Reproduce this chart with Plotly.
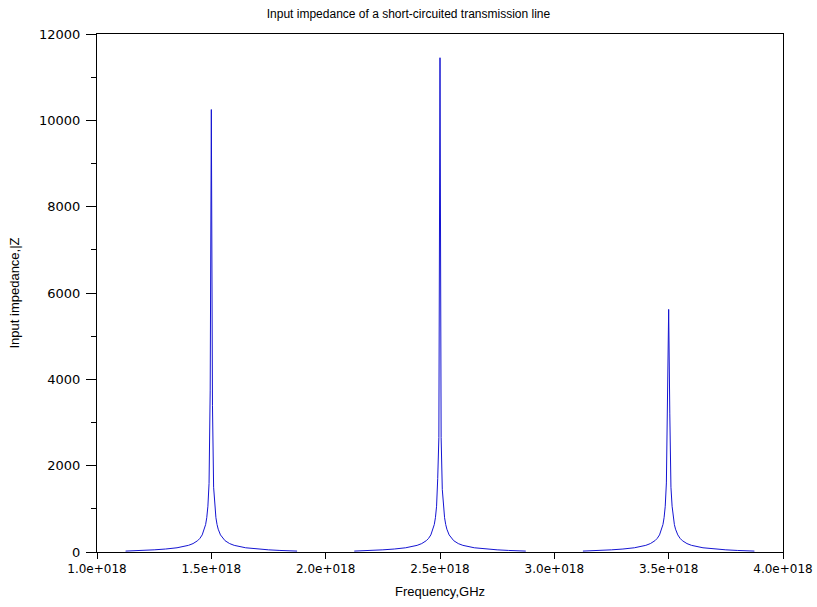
import plotly.graph_objects as go

# frequency in units of 1e18 Hz
freq_1 = [1.125, 1.15, 1.2, 1.25, 1.3, 1.35, 1.4, 1.42, 1.44, 1.45, 1.46, 1.47, 1.475,
          1.48, 1.485, 1.49, 1.495, 1.5, 1.505, 1.51, 1.515, 1.52, 1.525, 1.53, 1.54,
          1.55, 1.56, 1.58, 1.6, 1.65, 1.7, 1.75, 1.8, 1.85, 1.875]
freq_2 = [2.125, 2.15, 2.2, 2.25, 2.3, 2.35, 2.4, 2.42, 2.44, 2.45, 2.46, 2.47, 2.475,
          2.48, 2.485, 2.49, 2.495, 2.5, 2.505, 2.51, 2.515, 2.52, 2.525, 2.53, 2.54,
          2.55, 2.56, 2.58, 2.6, 2.65, 2.7, 2.75, 2.8, 2.85, 2.875]
freq_3 = [3.125, 3.15, 3.2, 3.25, 3.3, 3.35, 3.4, 3.42, 3.44, 3.45, 3.46, 3.47, 3.475,
          3.48, 3.485, 3.49, 3.495, 3.5, 3.505, 3.51, 3.515, 3.52, 3.525, 3.53, 3.54,
          3.55, 3.56, 3.58, 3.6, 3.65, 3.7, 3.75, 3.8, 3.85, 3.875]

z_1 = [21, 25, 36, 50, 69, 98, 154, 195, 262, 316, 396, 529, 635,
       795, 1060, 1590, 3750, 10250, 3400, 1500, 1060, 795, 635, 529, 396,
       316, 262, 195, 154, 98, 69, 50, 36, 25, 21]
z_2 = [21, 25, 36, 50, 69, 98, 154, 195, 262, 316, 396, 529, 635,
       795, 1060, 1700, 2650, 11450, 2650, 1450, 1060, 795, 635, 529, 396,
       316, 262, 195, 154, 98, 69, 50, 36, 25, 21]
z_3 = [21, 25, 36, 50, 69, 98, 154, 195, 262, 316, 396, 529, 635,
       795, 1060, 1600, 3170, 5620, 3200, 1500, 1060, 795, 635, 529, 396,
       316, 262, 195, 154, 98, 69, 50, 36, 25, 21]

x_ticks = [1.0, 1.5, 2.0, 2.5, 3.0, 3.5, 4.0]
x_labels = ["1.0e+018", "1.5e+018", "2.0e+018", "2.5e+018", "3.0e+018", "3.5e+018", "4.0e+018"]
y_ticks = [0, 2000, 4000, 6000, 8000, 10000, 12000]
y_labels = ["0", "2000", "4000", "6000", "8000", "10000", "12000"]
y_minor = [1000, 3000, 5000, 7000, 9000, 11000]

SCALE = 1e18
BLUE = "#1414d2"
TICK_FONT = "DejaVu Sans, sans-serif"
TEXT_FONT = "Liberation Sans, Arial, sans-serif"
NARROW = "Liberation Sans Narrow, Liberation Sans, sans-serif"

W, H = 817, 607

fig = go.Figure()
for fr, z in [(freq_1, z_1), (freq_2, z_2), (freq_3, z_3)]:
    fig.add_trace(go.Scatter(
        x=[f * SCALE for f in fr], y=z, mode="lines",
        line={"color": BLUE, "width": 1}, showlegend=False,
    ))

axis = {
    "showline": True, "linecolor": "black", "linewidth": 1, "mirror": True,
    "showgrid": False, "zeroline": False, "automargin": False,
    "ticks": "outside", "tickcolor": "black", "tickwidth": 1,
    "tickfont": {"family": TICK_FONT, "size": 13, "color": "black"},
}

fig.update_layout(
    width=W, height=H,
    paper_bgcolor="white", plot_bgcolor="white",
    margin={"l": 97, "r": 34, "t": 34, "b": 55},
    title={"text": "Input impedance of a short-circuited transmission line",
           "x": 0.5, "xanchor": "center", "y": 1 - 14 / H, "yanchor": "middle",
           "font": {"family": NARROW, "size": 12, "color": "black"}},
    xaxis={**axis, "range": [1e18, 4e18],
           "tickvals": [t * SCALE for t in x_ticks], "ticktext": x_labels, "ticklen": 6,
           "tickfont": {"family": TICK_FONT, "size": 12, "color": "black"},
           "title": {"text": "Frequency,GHz", "standoff": 11,
                     "font": {"family": TEXT_FONT, "size": 13, "color": "black"}}},
    yaxis={**axis, "range": [0, 12000], "tickvals": y_ticks, "ticktext": y_labels,
           "ticklen": 10, "ticklabelstandoff": 3,
           "minor": {"tickvals": y_minor, "ticks": "outside",
                     "ticklen": 5, "tickcolor": "black", "tickwidth": 1},
           "title": {"text": "Input impedance,|Z", "standoff": 16,
                     "font": {"family": TEXT_FONT, "size": 13, "color": "black"}}},
)

# drop the default page margin so the figure fills the window
fig.write_html("out.html", config={"displayModeBar": False},
               post_script="document.body.style.margin = '0';")
